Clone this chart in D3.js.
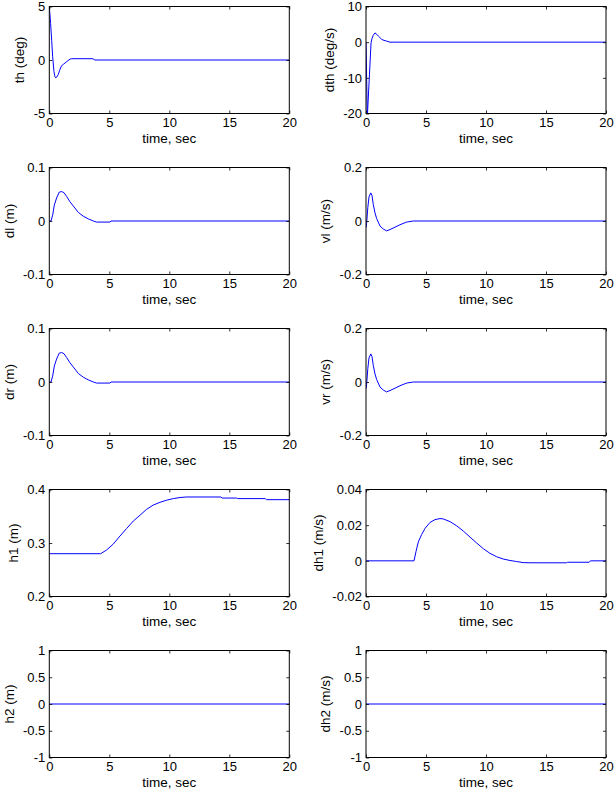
<!DOCTYPE html>
<html>
<head>
<meta charset="utf-8">
<script src="https://cdn.jsdelivr.net/npm/d3@7"></script>
<style>
  html, body { margin: 0; padding: 0; background: #fff; }
  svg { display: block; }
  text { font-family: "Liberation Sans", Arial, Helvetica, sans-serif; fill: #000; }
</style>
</head>
<body>
<svg id="fig" width="615" height="803"></svg>
<script>
// ---------- data ----------
const xTicks = [0, 5, 10, 15, 20];
const xLabel = "time, sec";

const thT = [0, 0.05, 0.11, 0.2, 0.28, 0.39, 0.47, 0.53, 0.62, 0.75, 0.85, 0.97, 1.1, 1.2, 1.44, 1.72, 1.86, 3.67, 3.75, 20];
const thV = [5, 4.3, 3.4, 1.8, 0.3, -1.1, -1.55, -1.66, -1.6, -1.35, -1.0, -0.65, -0.45, -0.38, -0.16, 0.08, 0.12, 0.12, 0, 0];
const thTicks = [-5, 0, 5];

const dthT = [0, 0.11, 0.42, 0.5, 0.6, 0.75, 0.9, 1.03, 1.3, 1.5, 1.72, 2.0, 20];
const dthV = [0, -21, -0.2, 1.0, 1.9, 2.6, 2.2, 1.7, 0.8, 0.5, 0.3, 0, 0];
const dthTicks = [-20, -10, 0, 10];

const dlT = [0, 0.14, 0.28, 0.42, 0.61, 0.83, 1.03, 1.22, 1.44, 1.72, 2.0, 2.42, 2.83, 3.25, 3.67, 3.94, 5.06, 5.14, 20];
const dlV = [0, 0, 0.011, 0.030, 0.043, 0.054, 0.055, 0.053, 0.046, 0.036, 0.028, 0.016, 0.009, 0.004, 0, -0.002, -0.002, 0, 0];
const dlTicks = [-0.1, 0, 0.1];

const vlT = [0, 0.05, 0.15, 0.25, 0.4, 0.5, 0.61, 0.75, 0.89, 1.17, 1.44, 1.72, 2.0, 2.42, 2.83, 3.39, 3.94, 20];
const vlV = [-0.025, -0.01, 0.05, 0.09, 0.105, 0.095, 0.061, 0.03, 0.009, -0.019, -0.03, -0.037, -0.032, -0.023, -0.014, -0.004, 0, 0];
const vlTicks = [-0.2, 0, 0.2];

const drT = [0, 0.14, 0.28, 0.42, 0.61, 0.83, 1.03, 1.22, 1.44, 1.72, 2.0, 2.42, 2.83, 3.25, 3.67, 3.94, 5.06, 5.14, 20];
const drV = [0, 0, 0.011, 0.030, 0.043, 0.054, 0.055, 0.053, 0.046, 0.036, 0.028, 0.016, 0.009, 0.004, 0, -0.002, -0.002, 0, 0];
const drTicks = [-0.1, 0, 0.1];

const vrT = [0, 0.05, 0.15, 0.25, 0.4, 0.5, 0.61, 0.75, 0.89, 1.17, 1.44, 1.72, 2.0, 2.42, 2.83, 3.39, 3.94, 20];
const vrV = [-0.025, -0.01, 0.05, 0.09, 0.105, 0.095, 0.061, 0.03, 0.009, -0.019, -0.03, -0.037, -0.032, -0.023, -0.014, -0.004, 0, 0];
const vrTicks = [-0.2, 0, 0.2];

const h1T = [0, 4.28, 4.78, 5.33, 5.89, 6.44, 7.0, 7.56, 8.11, 8.67, 9.22, 9.78, 10.33, 10.89, 11.4, 14.3, 14.4, 15.6, 15.7, 18.0, 18.1, 20];
const h1V = [0.28, 0.28, 0.287, 0.298, 0.313, 0.327, 0.341, 0.352, 0.363, 0.371, 0.376, 0.380, 0.383, 0.385, 0.386, 0.386, 0.384, 0.384, 0.383, 0.383, 0.381, 0.381];
const h1Ticks = [0.2, 0.3, 0.4];

const dh1T = [0, 4.0, 4.17, 4.36, 4.64, 4.92, 5.33, 5.75, 6.17, 6.44, 7.0, 7.56, 8.11, 8.67, 9.22, 9.78, 10.33, 10.89, 11.44, 12.0, 12.56, 13.1, 13.67, 16.7, 16.8, 18.6, 18.7, 20];
const dh1V = [0, 0, 0.0053, 0.0106, 0.0148, 0.0182, 0.0215, 0.0231, 0.0237, 0.0235, 0.022, 0.0196, 0.0167, 0.0133, 0.010, 0.0068, 0.0042, 0.0023, 0.001, 0.0002, -0.0004, -0.001, -0.0011, -0.0011, -0.0008, -0.0008, 0, 0];
const dh1Ticks = [-0.02, 0, 0.02, 0.04];

const h2T = [0, 20];
const h2V = [0, 0];
const h2Ticks = [-1, -0.5, 0, 0.5, 1];

const dh2T = [0, 20];
const dh2V = [0, 0];
const dh2Ticks = [-1, -0.5, 0, 0.5, 1];

const yLabels = ["th (deg)", "dth (deg/s)", "dl (m)", "vl (m/s)", "dr (m)", "vr (m/s)", "h1 (m)", "dh1 (m/s)", "h2 (m)", "dh2 (m/s)"];

const panels = [
  { t: thT, v: thV, ticks: thTicks },
  { t: dthT, v: dthV, ticks: dthTicks },
  { t: dlT, v: dlV, ticks: dlTicks },
  { t: vlT, v: vlV, ticks: vlTicks },
  { t: drT, v: drV, ticks: drTicks },
  { t: vrT, v: vrV, ticks: vrTicks },
  { t: h1T, v: h1V, ticks: h1Ticks },
  { t: dh1T, v: dh1V, ticks: dh1Ticks },
  { t: h2T, v: h2V, ticks: h2Ticks },
  { t: dh2T, v: dh2V, ticks: dh2Ticks }
].map((p, i) => Object.assign(p, { label: yLabels[i] }));

// ---------- layout ----------
const colLeft = [49.3, 366];
const rowTop = [6.5, 167.5, 328.5, 489.5, 650.5];
const W = 240, H = 107;
const tickLen = 3;
const fontSize = 13;
const labelSize = 13.5;

const svg = d3.select("#fig");

const fmt = v => String(+v.toFixed(4));

panels.forEach((p, i) => {
  const col = i % 2, row = Math.floor(i / 2);
  const x0 = colLeft[col], y0 = rowTop[row];
  const g = svg.append("g").attr("transform", `translate(${x0},${y0})`);

  const x = d3.scaleLinear().domain([0, 20]).range([0, W]);
  const yd = d3.extent(p.ticks);
  const y = d3.scaleLinear().domain(yd).range([H, 0]);

  const clipId = "clip" + i;
  g.append("clipPath").attr("id", clipId)
    .append("rect").attr("x", 0).attr("y", 0).attr("width", W).attr("height", H);

  // data line
  const pts = p.t.map((t, k) => [t, p.v[k]]);
  g.append("path")
    .datum(pts)
    .attr("clip-path", `url(#${clipId})`)
    .attr("fill", "none")
    .attr("stroke", "#0000ff")
    .attr("stroke-width", 1)
    .attr("d", d3.line().x(d => x(d[0])).y(d => y(d[1])));

  // axes
  const styleAxis = sel => {
    sel.select(".domain").remove();
    sel.selectAll(".tick line").attr("stroke", "#000").attr("stroke-width", 0.8);
    sel.selectAll("text").style("font-size", fontSize + "px")
      .style("font-family", '"Liberation Sans", Arial, Helvetica, sans-serif').attr("fill", "#000");
  };

  g.append("g").attr("transform", `translate(0,${H})`)
    .call(d3.axisBottom(x).tickValues(xTicks).tickSize(-tickLen).tickSizeOuter(0).tickPadding(4).tickFormat(fmt))
    .call(styleAxis);
  g.append("g")
    .call(d3.axisTop(x).tickValues(xTicks).tickSize(-tickLen).tickSizeOuter(0).tickFormat(""))
    .call(styleAxis);
  const yAx = g.append("g")
    .call(d3.axisLeft(y).tickValues(p.ticks).tickSize(-tickLen).tickSizeOuter(0).tickPadding(4).tickFormat(fmt))
    .call(styleAxis);
  g.append("g").attr("transform", `translate(${W},0)`)
    .call(d3.axisRight(y).tickValues(p.ticks).tickSize(-tickLen).tickSizeOuter(0).tickFormat(""))
    .call(styleAxis);

  // box
  g.append("rect").attr("x", 0).attr("y", 0).attr("width", W).attr("height", H)
    .attr("fill", "none").attr("stroke", "#000").attr("stroke-width", 1);

  // x label
  g.append("text")
    .attr("x", W / 2).attr("y", H + 29)
    .attr("text-anchor", "middle")
    .style("font-size", labelSize + "px")
    .text(xLabel);

  // y label
  let maxW = 0;
  yAx.selectAll(".tick text").each(function () { maxW = Math.max(maxW, this.getComputedTextLength()); });
  const lx = -4 - maxW - 14;
  g.append("text")
    .attr("transform", `translate(${lx},${H / 2}) rotate(-90)`)
    .attr("text-anchor", "middle")
    .attr("dy", "0.35em")
    .style("font-size", labelSize + "px")
    .text(p.label);
});
</script>
</body>
</html>
